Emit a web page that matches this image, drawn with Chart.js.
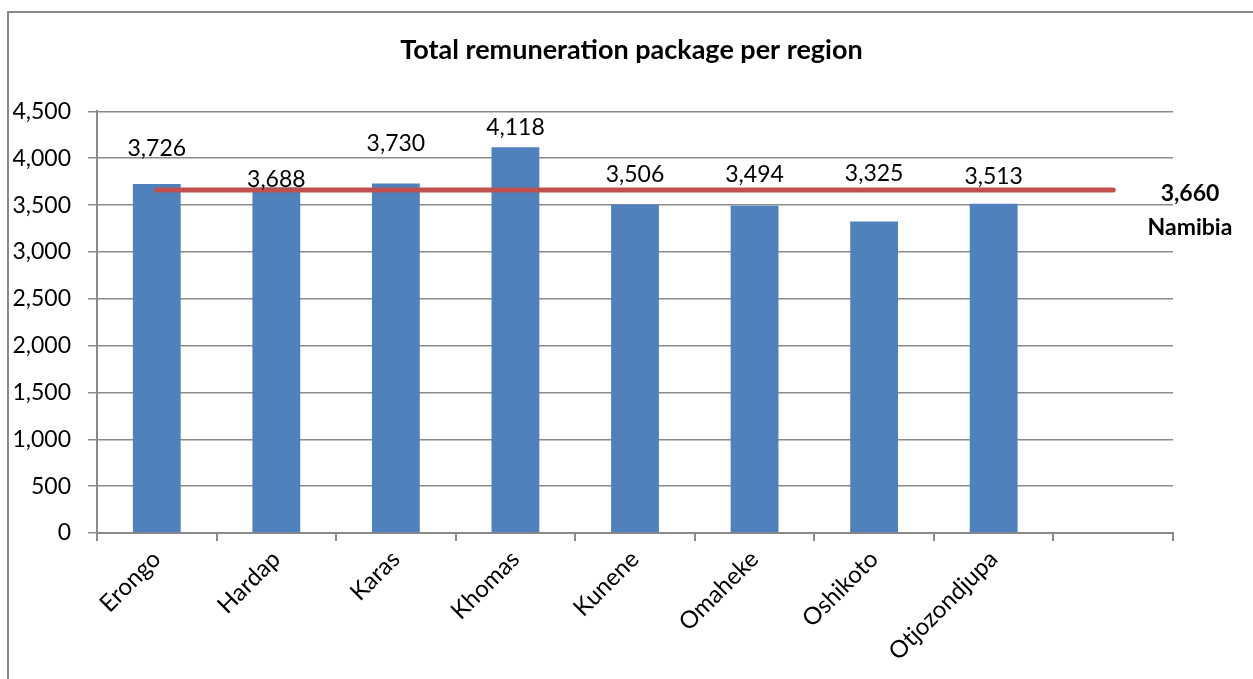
<!DOCTYPE html>
<html>
<head>
    <title>Total remuneration package per region</title>
    <script src="https://cdn.jsdelivr.net/npm/chart.js@4.4.1/dist/chart.umd.min.js"></script>
    <style>
        body {
            margin: 0;
            background-color: #fff;
            font-family: Lato, sans-serif;
        }

        .wrap {
            position: relative;
            width: 1253px;
            height: 679px;
            overflow: hidden;
        }

        /* chart frame, cut off at the right and bottom like the original */
        .frame {
            position: absolute;
            left: 7px;
            top: 11px;
            width: 1400px;
            height: 800px;
            border-left: 2px solid #8a8a8a;
            border-top: 2px solid #8a8a8a;
        }

        #remChart {
            position: absolute;
            left: 0;
            top: 0;
        }
    </style>
</head>
<body>
<div class="wrap">
    <div class="frame"></div>
    <canvas id="remChart" width="1253" height="679"></canvas>
</div>
<script>
    // data
    const regions = ['Erongo', 'Hardap', 'Karas', 'Khomas', 'Kunene', 'Omaheke', 'Oshikoto', 'Otjozondjupa', ''];
    const remuneration = [3726, 3688, 3730, 4118, 3506, 3494, 3325, 3513, null];
    const namibia = [3660, 3660, 3660, 3660, 3660, 3660, 3660, 3660, 3660];
    const namibiaLabel = ['3,660', 'Namibia'];

    // how far each value label sits above its bar (px), as placed in the original
    const labelLift = [35, 8, 40, 20, 30, 31, 48, 27];

    const fmt = v => v.toLocaleString('en-US');
    const FONT = 'Lato, sans-serif';

    const valueLabels = {
        id: 'valueLabels',
        afterDatasetsDraw(chart) {
            const ctx = chart.ctx;
            const meta = chart.getDatasetMeta(1);
            ctx.save();
            ctx.font = '23px ' + FONT;
            ctx.fillStyle = '#000';
            ctx.textAlign = 'center';
            ctx.textBaseline = 'middle';
            meta.data.forEach((bar, i) => {
                if (remuneration[i] == null) return;
                ctx.fillText(fmt(remuneration[i]), bar.x, bar.y - labelLift[i]);
            });

            // national average at the right of the line
            const y = chart.scales.y.getPixelForValue(namibia[namibia.length - 1]);
            const x = chart.chartArea.right + 17;
            ctx.font = 'bold 23px ' + FONT;
            ctx.fillText(namibiaLabel[0], x, y + 3);
            ctx.fillText(namibiaLabel[1], x, y + 37);
            ctx.restore();
        }
    };

    const chart = new Chart('remChart', {
        data: {
            labels: regions,
            datasets: [{
                type: 'line',
                label: 'Namibia',
                data: namibia,
                borderColor: '#C0504D',
                borderWidth: 5,
                borderCapStyle: 'round',
                pointRadius: 0,
                order: 0
            }, {
                type: 'bar',
                label: 'Region',
                data: remuneration,
                backgroundColor: '#4F81BD',
                barPercentage: 0.4,
                categoryPercentage: 1,
                order: 1
            }]
        },
        plugins: [valueLabels],
        options: {
            responsive: false,
            animation: false,
            layout: {
                padding: {left: 10, right: 0, top: 0, bottom: 0}
            },
            plugins: {
                legend: {display: false},
                tooltip: {enabled: false},
                title: {
                    display: true,
                    text: 'Total remuneration package per region',
                    color: '#000',
                    font: {family: FONT, size: 27, weight: 'bold'},
                    padding: {top: 34, bottom: 45}
                }
            },
            scales: {
                x: {
                    offset: true,
                    grid: {
                        offset: true,
                        drawOnChartArea: false,
                        drawTicks: true,
                        tickLength: 8,
                        color: '#8a8a8a',
                        lineWidth: 2
                    },
                    border: {color: '#8a8a8a', width: 2},
                    ticks: {
                        autoSkip: false,
                        minRotation: 45,
                        maxRotation: 45,
                        padding: 4,
                        color: '#000',
                        font: {family: FONT, size: 24}
                    },
                    afterFit(scale) {
                        scale.height = 146;
                    }
                },
                y: {
                    min: 0,
                    max: 4500,
                    grid: {
                        color: '#8a8a8a',
                        lineWidth: 1.5,
                        tickLength: 9
                    },
                    border: {color: '#8a8a8a', width: 2},
                    ticks: {
                        stepSize: 500,
                        padding: 17,
                        color: '#000',
                        font: {family: FONT, size: 23},
                        callback: v => fmt(v)
                    },
                    afterFit(scale) {
                        scale.width = 87;
                    }
                },
                // empty strip on the right that holds the "Namibia" label
                side: {
                    position: 'right',
                    grid: {display: false},
                    border: {display: false},
                    ticks: {display: false},
                    afterFit(scale) {
                        scale.width = 80;
                    }
                }
            }
        }
    });
</script>
</body>
</html>
